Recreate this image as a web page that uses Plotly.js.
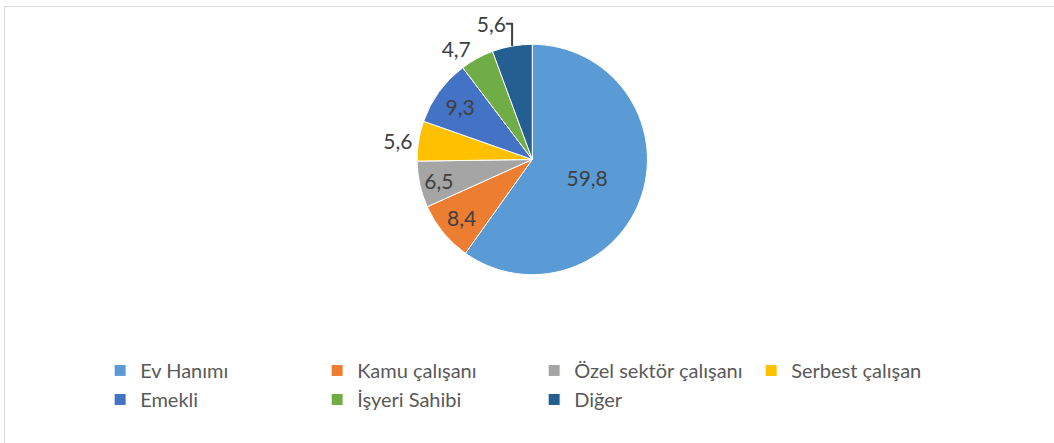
<!DOCTYPE html>
<html>
<head>
<meta charset="utf-8">
<script src="https://cdn.plot.ly/plotly-3.0.1.min.js"></script>
<style>
  html, body { margin: 0; padding: 0; background: #fff; }
  #wrap { position: relative; width: 1054px; height: 443px; overflow: hidden; }
  #chart { position: absolute; left: 0; top: 0; width: 1054px; height: 443px; }
  #frame { position: absolute; left: 4px; top: 6px; width: 1100px; height: 500px;
           border-top: 1px solid #d9d9d9; border-left: 1px solid #d9d9d9; pointer-events: none; }
</style>
</head>
<body>
<div id="wrap">
  <div id="chart"></div>
  <div id="frame"></div>
</div>
<script>
const categories = ["Ev Hanımı", "Kamu çalışanı", "Özel sektör çalışanı", "Serbest çalışan", "Emekli", "İşyeri Sahibi", "Diğer"];
const values = [59.8, 8.4, 6.5, 5.6, 9.3, 4.7, 5.6];
const colors = ["#5B9BD5", "#ED7D31", "#A5A5A5", "#FFC000", "#4472C4", "#70AD47", "#255E91"];
const labelPositions = ["inside", "inside", "inside", "outside", "inside", "outside", "outside"];

const trace = {
  type: "pie",
  labels: categories,
  values: values,
  sort: false,
  direction: "clockwise",
  rotation: 0,
  marker: { colors: colors, line: { color: "#ffffff", width: 1 } },
  texttemplate: "%{value:.1f}",
  textposition: labelPositions,
  insidetextorientation: "horizontal",
  textfont: { family: "Lato, 'Open Sans', sans-serif", size: 21, color: "#404040" },
  outsidetextfont: { family: "Lato, 'Open Sans', sans-serif", size: 21, color: "#404040" },
  domain: { x: [0.3, 0.71], y: [0.38, 0.9] },
  hoverinfo: "label+value"
};

const layout = {
  width: 1054,
  height: 443,
  margin: { l: 0, r: 0, t: 0, b: 0 },
  paper_bgcolor: "#ffffff",
  separators: ",.",
  showlegend: true,
  legend: {
    orientation: "h",
    x: 0.095,
    xanchor: "left",
    y: 0.131,
    yanchor: "middle",
    entrywidth: 172,
    entrywidthmode: "pixels",
    bgcolor: "rgba(0,0,0,0)",
    font: { family: "Lato, 'Open Sans', sans-serif", size: 20, color: "#595959" },
    itemwidth: 30
  }
};

Plotly.newPlot("chart", [trace], layout, { displayModeBar: false, staticPlot: true });
</script>
</body>
</html>
